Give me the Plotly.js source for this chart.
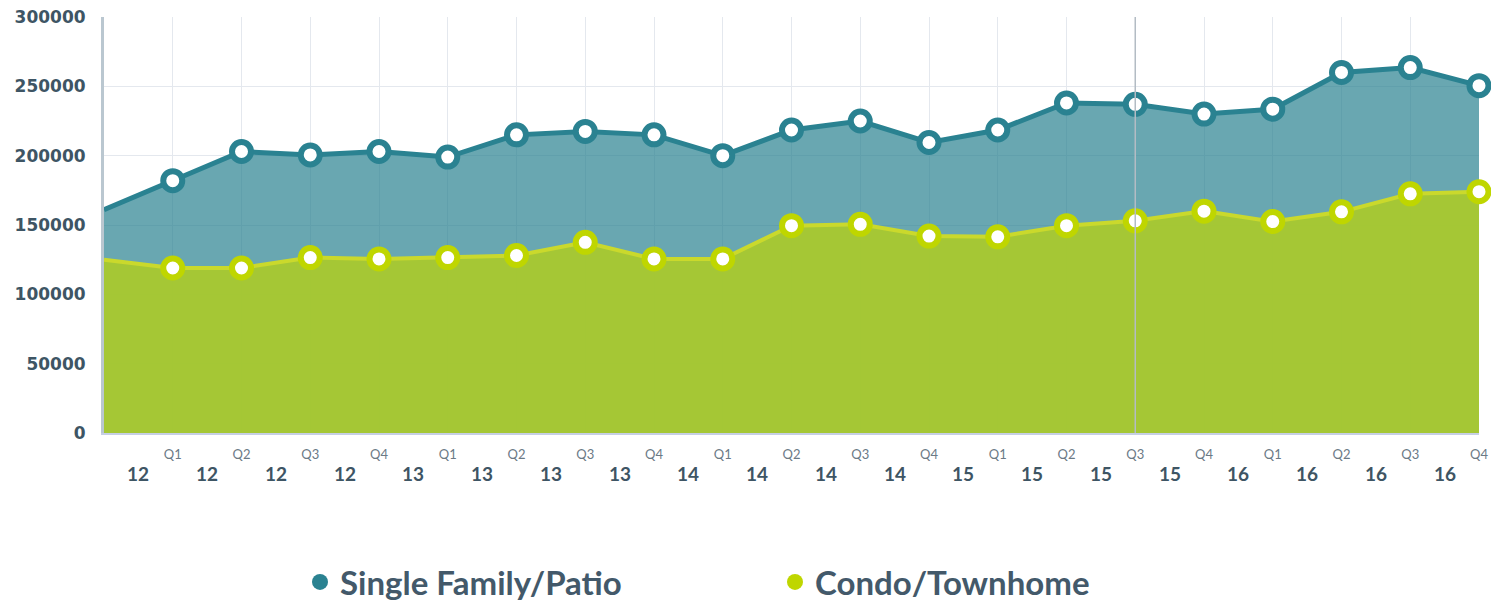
<!DOCTYPE html>
<html>
<head>
<meta charset="utf-8">
<script src="https://cdn.plot.ly/plotly-3.0.1.min.js"></script>
<style>
  html, body { margin: 0; padding: 0; background: #ffffff; }
  #chart { width: 1491px; height: 601px; }
</style>
</head>
<body>
<div id="chart"></div>
<script>
// ---- Data ----
const quarterLabels = ['Q1','Q2','Q3','Q4','Q1','Q2','Q3','Q4','Q1','Q2','Q3','Q4','Q1','Q2','Q3','Q4','Q1','Q2','Q3','Q4'];
const yearLabels    = ['12','12','12','12','13','13','13','13','14','14','14','14','15','15','15','15','16','16','16','16'];
// first value is the period before Q1 '12 (drawn without a marker)
const singleFamily = [161000, 182000, 203000, 200500, 203000, 199000, 215000, 217500, 215000, 200000, 218500,
                      225000, 209500, 218500, 238000, 237000, 230000, 233500, 260000, 263500, 250500];
const condo        = [125000, 119000, 119000, 126500, 125500, 126500, 128000, 137500, 125500, 125500, 149500,
                      150500, 142000, 141500, 149500, 153000, 160000, 152500, 159500, 172500, 174000];
const seriesNames = ['Single Family/Patio', 'Condo/Townhome'];
const highlightIndex = 15; // vertical crosshair (Q3 '15)

// ---- Styles ----
const sfLine = '#2a8291', sfFill = 'rgba(42,129,144,0.70)';
const cdLine = '#cad92c', cdMarker = '#bfd600', cdFill = 'rgba(172,203,40,0.90)';
const labelColor = '#3e5564';

const xAll = singleFamily.map((_, i) => i);
const xMk = xAll.slice(1);

const traces = [
  { x: xAll, y: singleFamily, type: 'scatter', mode: 'lines', fill: 'tozeroy', fillcolor: sfFill,
    line: { color: sfLine, width: 5 }, showlegend: false, hoverinfo: 'skip', cliponaxis: false },
  { x: xAll, y: condo, type: 'scatter', mode: 'lines', fill: 'tozeroy', fillcolor: cdFill,
    line: { color: cdLine, width: 4 }, showlegend: false, hoverinfo: 'skip', cliponaxis: false },
  { x: xMk, y: singleFamily.slice(1), type: 'scatter', mode: 'markers', showlegend: false, cliponaxis: false,
    marker: { size: 19, color: '#ffffff', line: { color: sfLine, width: 6 } } },
  { x: xMk, y: condo.slice(1), type: 'scatter', mode: 'markers', showlegend: false, cliponaxis: false,
    marker: { size: 19, color: '#ffffff', line: { color: cdMarker, width: 6 } } },
  // legend entries
  { x: [null], y: [null], type: 'scatter', mode: 'markers', name: seriesNames[0],
    marker: { size: 16, color: sfLine } },
  { x: [null], y: [null], type: 'scatter', mode: 'markers', name: seriesNames[1],
    marker: { size: 16, color: cdMarker } }
];

const annotations = yearLabels.map((t, i) => ({
  x: i + 0.5, xref: 'x', y: 0, yref: 'paper', yanchor: 'middle', yshift: -40,
  text: t, showarrow: false,
  font: { family: 'Lato, sans-serif', size: 19, color: labelColor, weight: 700 }
}));

const layout = {
  width: 1491, height: 601,
  margin: { l: 104, r: 12, t: 17, b: 168 },
  paper_bgcolor: '#ffffff', plot_bgcolor: '#ffffff',
  showlegend: true,
  legend: {
    orientation: 'h', xref: 'container', yref: 'container',
    x: 300 / 1491, xanchor: 'left', y: 1 - 582 / 601, yanchor: 'middle',
    font: { family: 'Lato, sans-serif', size: 33, color: '#43596a', weight: 700 },
    entrywidth: 430, entrywidthmode: 'pixels', itemclick: false, itemdoubleclick: false,
    bgcolor: 'rgba(0,0,0,0)'
  },
  xaxis: {
    range: [0, singleFamily.length - 1], fixedrange: true,
    tickvals: xMk, ticktext: quarterLabels, ticks: '', ticklabelstandoff: 8,
    tickfont: { family: 'Lato, sans-serif', size: 13, color: '#6b7a86' },
    showgrid: true, gridcolor: '#e4e8ee', gridwidth: 1,
    showline: true, linecolor: '#c6cfe4', linewidth: 2, zeroline: false
  },
  yaxis: {
    range: [0, 300000], dtick: 50000, tickformat: 'd', fixedrange: true,
    ticks: '', ticklabelstandoff: 12,
    tickfont: { family: 'DejaVu Sans, sans-serif', size: 17, color: labelColor, weight: 700 },
    showgrid: true, gridcolor: '#e4e8ee', gridwidth: 1,
    showline: true, linecolor: '#bac7d0', linewidth: 3, zeroline: false
  },
  shapes: [{
    type: 'line', xref: 'x', yref: 'paper', x0: highlightIndex, x1: highlightIndex, y0: 0, y1: 1,
    line: { color: '#b3bcc4', width: 1.5 }, layer: 'above'
  }],
  annotations: annotations
};

Plotly.newPlot('chart', traces, layout, { displayModeBar: false, staticPlot: true });
</script>
</body>
</html>
